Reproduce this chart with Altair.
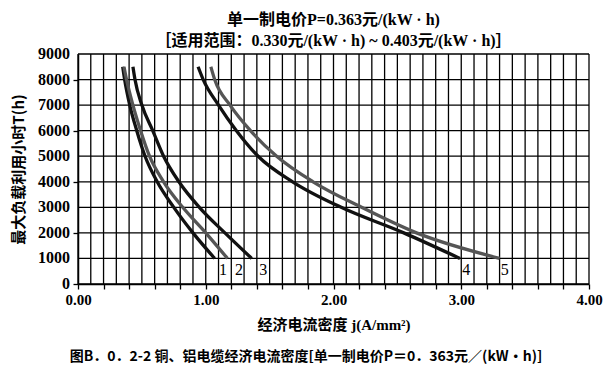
import altair as alt
import pandas as pd

# Maximum load utilisation hours T (h) at which each curve is read
T_levels = [8500, 8000, 7000, 6000, 5000, 4000, 3000, 2000, 1000]

# Economic current density j (A/mm²) at those T levels
curve_1 = [0.35, 0.365, 0.405, 0.46, 0.525, 0.62, 0.75, 0.90, 1.07]
curve_2 = [0.36, 0.38, 0.43, 0.49, 0.56, 0.67, 0.82, 1.00, 1.17]
curve_3 = [0.43, 0.446, 0.50, 0.585, 0.67, 0.79, 0.95, 1.15, 1.36]
curve_4 = [0.94, 0.98, 1.10, 1.24, 1.41, 1.68, 2.06, 2.55, 2.99]
curve_5 = [1.04, 1.07, 1.19, 1.35, 1.555, 1.84, 2.22, 2.65, 3.30]

curve_names = ["1", "2", "3", "4", "5"]
curve_colors = ["#111111", "#555555", "#111111", "#111111", "#555555"]

# Curve number labels
label_text = ["1", "2", "3", "4", "5"]
label_j = [1.135, 1.26, 1.45, 3.04, 3.34]
label_T = [550, 550, 550, 550, 550]

x_grid = [round(k * 0.1, 1) for k in range(0, 41)]
y_grid = list(range(0, 9001, 1000))
y_tick_labels = [str(v) for v in y_grid]

title_lines = ["单一制电价P=0.363元/(kW · h)",
               "［适用范围：0.330元/(kW · h) ~ 0.403元/(kW · h)］"]
x_title = "经济电流密度 j(A/mm²)"
y_title = "最大负载利用小时T(h)"
caption = "图B．0．2-2 铜、铝电缆经济电流密度[单一制电价P＝0．363元／(kW•h)]"

rows = []
for name, vals in zip(curve_names, [curve_1, curve_2, curve_3, curve_4, curve_5]):
    for t, j in zip(T_levels, vals):
        rows.append({"curve": name, "T": t, "j": j})
df = pd.DataFrame(rows)
labels = pd.DataFrame({"text": label_text, "j": label_j, "T": label_T})
xg = pd.DataFrame({"j": x_grid})
yg = pd.DataFrame({"T": y_grid, "lab": y_tick_labels})

SERIF = "Liberation Serif, Noto Sans CJK SC"
SANS = "Noto Sans CJK SC"

xscale = alt.Scale(domain=[0, 4], nice=False, zero=False)
yscale = alt.Scale(domain=[0, 9000], nice=False, zero=False)

x_axis = alt.Axis(values=x_grid, tickCount=40, title=x_title, labelOverlap=False,
                  labelExpr="abs(datum.value - round(datum.value)) < 0.001 ? format(datum.value, '.2f') : ''",
                  grid=False,
                  tickColor="#000", tickSize=5, tickWidth=1.3,
                  domainColor="#000", domainWidth=1.5,
                  labelFont=SERIF, labelFontSize=15, labelFontWeight="bold",
                  labelColor="#000", labelPadding=3, labelFlush=False,
                  titleFont=SERIF, titleFontSize=15, titleFontWeight="bold",
                  titleColor="#000", titlePadding=10)
y_axis = alt.Axis(values=y_grid, tickCount=9, title=y_title, labels=False,
                  grid=False,
                  tickColor="#000", tickSize=5, tickWidth=1.3,
                  domainColor="#000", domainWidth=1.5,
                  titleFont=SANS, titleFontSize=15, titleFontWeight="bold",
                  titleColor="#000", titlePadding=46)

vgrid = alt.Chart(xg).mark_rule(color="#000", strokeWidth=1.3).encode(
    x=alt.X("j:Q", scale=xscale, axis=x_axis))
hgrid = alt.Chart(yg).mark_rule(color="#000", strokeWidth=1.3).encode(
    y=alt.Y("T:Q", scale=yscale, axis=y_axis))

ylabels = alt.Chart(yg).mark_text(font=SERIF, fontSize=16, fontWeight="bold", color="#000",
                                  align="right", baseline="middle").encode(
    y=alt.Y("T:Q", scale=yscale, axis=y_axis), x=alt.value(-8), text="lab:N")

lines = alt.Chart(df).mark_line(strokeWidth=3.3, interpolate="monotone").encode(
    x=alt.X("j:Q", scale=xscale, axis=x_axis),
    y=alt.Y("T:Q", scale=yscale, axis=y_axis),
    color=alt.Color("curve:N", scale=alt.Scale(domain=curve_names, range=curve_colors), legend=None),
    order=alt.Order("j:Q"),
)

label_layer = alt.Chart(labels).mark_text(font=SERIF, fontSize=16, color="#000",
                                          align="center", baseline="middle").encode(
    x=alt.X("j:Q", scale=xscale, axis=x_axis), y=alt.Y("T:Q", scale=yscale, axis=y_axis),
    text="text:N")

cap = alt.Chart(pd.DataFrame({"t": [caption]})).mark_text(
    font=SANS, fontSize=14, fontWeight="bold", color="#000", align="center", baseline="middle"
).encode(text="t:N", x=alt.value(228), y=alt.value(303))

chart = alt.layer(vgrid, hgrid, lines, label_layer, ylabels, cap).properties(
    width=511, height=230,
    autosize="none",
    padding={"left": 70, "top": 46, "right": 14, "bottom": 90},
    title=alt.TitleParams(text=title_lines, anchor="middle", font=SERIF, fontSize=16,
                          fontWeight="bold", color="#000", lineHeight=21, offset=-3),
).configure_view(stroke=None)

chart.save("out.html", embed_options={"renderer": "svg", "actions": False})
